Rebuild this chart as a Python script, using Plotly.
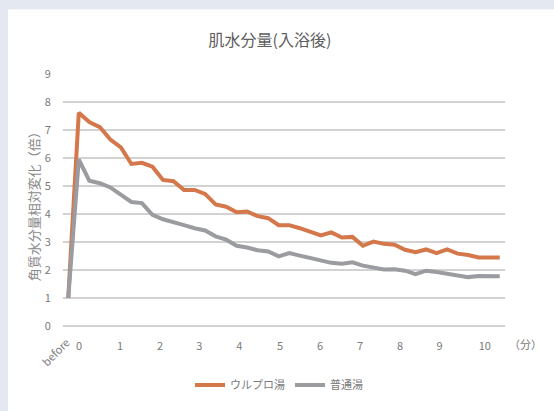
import plotly.graph_objects as go

# ---- data ----
sample_labels = ["before"] + [f"t{i}" for i in range(1, 42)]  # 42 measurement points
ulpro = [1.00, 7.62, 7.29, 7.11, 6.66, 6.38, 5.79, 5.83, 5.69, 5.22, 5.17,
         4.86, 4.86, 4.72, 4.34, 4.26, 4.06, 4.09, 3.92, 3.85, 3.60,
         3.60, 3.49, 3.35, 3.23, 3.34, 3.16, 3.18, 2.86, 3.01, 2.93,
         2.90, 2.72, 2.63, 2.73, 2.60, 2.73, 2.58, 2.53, 2.44, 2.44, 2.44]
normal = [1.00, 5.95, 5.19, 5.10, 4.95, 4.67, 4.43, 4.39, 3.97, 3.81, 3.69,
          3.60, 3.49, 3.41, 3.20, 3.08, 2.86, 2.80, 2.70, 2.66, 2.48,
          2.60, 2.51, 2.42, 2.36, 2.25, 2.22, 2.27, 2.15, 2.08, 2.01,
          2.02, 1.97, 1.85, 1.97, 1.92, 1.87, 1.82, 1.74, 1.78, 1.78, 1.77]
minute_labels = ["0", "1", "2", "3", "4", "5", "6", "7", "8", "9", "10"]
series_names = ["ウルプロ湯", "普通湯"]
y_ticks = [0, 1, 2, 3, 4, 5, 6, 7, 8, 9]

FONT = "Noto Sans CJK JP, Noto Sans, sans-serif"
x_idx = list(range(len(sample_labels)))

fig = go.Figure()
fig.add_trace(go.Scatter(x=x_idx, y=ulpro, mode="lines", name=series_names[0],
                         line=dict(color="#D4774B", width=4)))
fig.add_trace(go.Scatter(x=x_idx, y=normal, mode="lines", name=series_names[1],
                         line=dict(color="#9A9C9F", width=4)))

W, H = 554, 411
L, R, T, B = 63, 505, 74, 327.7
def px(xp):
    return (xp - L) / (R - L)
def py(yp):
    return (B - yp) / (B - T)

card = []
for (x0, x1, y0, y1) in [(8, L, 9, 415), (R, 560, 9, 415), (L, R, 9, T), (L, R, B, 415)]:
    card.append(dict(type="rect", xref="paper", yref="paper",
                     x0=px(x0), x1=px(x1), y0=py(y1), y1=py(y0),
                     fillcolor="white", line=dict(width=0), layer="below"))

fig.update_layout(
    template="none",
    width=W, height=H,
    margin=dict(l=L, r=W - R, t=T, b=H - B),
    paper_bgcolor="#E4E8F1",
    plot_bgcolor="white",
    font=dict(family=FONT, color="#7A7A7A", size=11),
    title=dict(text="肌水分量(入浴後)", x=270 / W, xanchor="center",
               y=1 - 40 / H, yanchor="middle",
               font=dict(family=FONT, size=16, color="#5F5F5F")),
    showlegend=True,
    legend=dict(orientation="h", x=px(279), xanchor="center", y=py(387),
                yanchor="middle", font=dict(family=FONT, size=11, color="#7A7A7A"),
                bgcolor="rgba(0,0,0,0)", itemwidth=30),
    shapes=card,
)

fig.update_xaxes(range=[-0.5, 41.5], showgrid=False, zeroline=False, showline=False,
                 tickmode="array",
                 tickvals=[1.02, 4.91, 8.72, 12.45, 16.25, 20.12, 23.92, 27.73, 31.53, 35.27, 39.58],
                 ticktext=minute_labels, ticks="outside", ticklen=10,
                 tickcolor="rgba(0,0,0,0)",
                 tickfont=dict(family=FONT, size=11, color="#7A7A7A"))
fig.update_yaxes(range=[-0.01, 9.01], tickmode="array", tickvals=y_ticks,
                 ticktext=[str(v) for v in y_ticks],
                 showgrid=True, gridcolor="#D2D2D2", gridwidth=2,
                 zeroline=True, zerolinecolor="#D2D2D2", zerolinewidth=2,
                 showline=False, ticks="outside", ticklen=9,
                 tickcolor="rgba(0,0,0,0)",
                 tickfont=dict(family=FONT, size=11, color="#7A7A7A"))

fig.add_annotation(text="角質水分量相対変化（倍）", xref="paper", yref="paper",
                   x=px(33), y=py(204), textangle=-90, showarrow=False,
                   xanchor="center", yanchor="middle",
                   font=dict(family=FONT, size=13, color="#8A8A8A"))
fig.add_annotation(text=sample_labels[0], xref="paper", yref="paper",
                   x=px(55), y=py(354), textangle=-45, showarrow=False,
                   xanchor="center", yanchor="middle",
                   font=dict(family=FONT, size=11, color="#7A7A7A"))
fig.add_annotation(text="（分）", xref="paper", yref="paper",
                   x=px(525), y=py(346), showarrow=False,
                   xanchor="center", yanchor="middle",
                   font=dict(family=FONT, size=11, color="#7A7A7A"))

fig.write_html("out.html")
